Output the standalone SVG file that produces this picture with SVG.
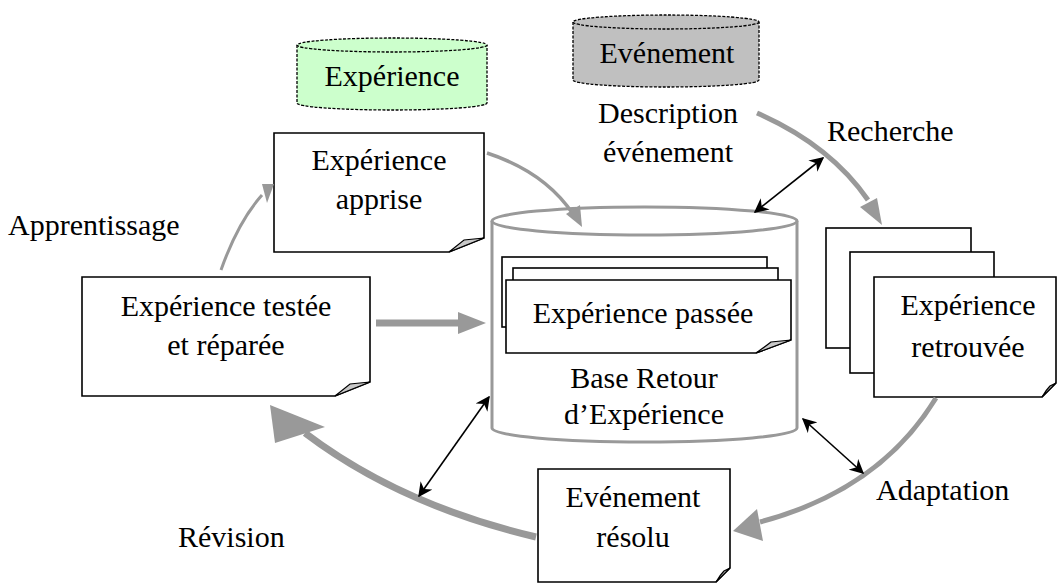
<svg xmlns="http://www.w3.org/2000/svg" width="1058" height="584" viewBox="0 0 1058 584" font-family="'Liberation Serif', 'Times New Roman', 'DejaVu Serif', serif">
<style>
text{font-family:'Liberation Serif','Times New Roman','DejaVu Serif',serif;font-size:30px;fill:#000}
.c{text-anchor:middle}
.doc{fill:#fff;stroke:#000;stroke-width:1.6}
.fold{fill:#c8c8c8;stroke:#000;stroke-width:1.2}
.g{fill:none;stroke:#999;stroke-linecap:butt}
.b{fill:none;stroke:#000;stroke-width:1.6}
.cy{stroke:#000;stroke-width:1.3;stroke-dasharray:3,1.5}
</style>
<defs>
<marker id="bh" viewBox="0 0 10 10" refX="9" refY="5" markerWidth="9" markerHeight="9" orient="auto-start-reverse" markerUnits="strokeWidth"><path d="M0,0 L10,5 L0,10 L3,5 Z" fill="#000"/></marker>
</defs>

<g id="cyl-experience">
<path class="cy" d="M297,45 V103 A95,7 0 0 0 487,103 V45" fill="#ccffcc"/>
<ellipse class="cy" cx="392" cy="45" rx="95" ry="7" fill="#ccffcc"/>
<text class="c" x="392" y="86">Expérience</text>
</g>

<g id="cyl-evenement">
<path class="cy" d="M573,22 V80 A93,7 0 0 0 759,80 V22" fill="#c0c0c0"/>
<ellipse class="cy" cx="666" cy="22" rx="93" ry="7" fill="#c0c0c0"/>
<text class="c" x="667" y="63">Evénement</text>
</g>

<g id="base">
<path d="M492,221 V428 A152,14 0 0 0 797,428 V221" fill="#fff" stroke="#999" stroke-width="3"/>
<ellipse cx="644.5" cy="221" rx="152.5" ry="14" fill="#fff" stroke="#999" stroke-width="3"/>
<text class="c" x="644" y="388">Base Retour</text>
<text class="c" x="644" y="424">d’Expérience</text>
</g>

<g id="doc-passee">
<rect class="doc" x="502" y="257" width="265" height="70"/>
<rect class="doc" x="513" y="268" width="265" height="70"/>
<path class="doc" d="M506,280 H791 V340 L756,353 H506 Z"/>
<path class="fold" d="M756,353 L791,340 L771,342 Q766,346 756,353 Z"/>
<text class="c" x="643" y="323">Expérience passée</text>
</g>

<g id="doc-apprise">
<path class="doc" d="M274,133 H484 V238 L449,252 H274 Z"/>
<path class="fold" d="M449,252 L484,238 L464,240 Q459,244 449,252 Z"/>
<text class="c" x="379" y="170">Expérience</text>
<text class="c" x="379" y="209">apprise</text>
</g>

<g id="doc-testee">
<path class="doc" d="M82,277 H370 V382 L335,396 H82 Z"/>
<path class="fold" d="M335,396 L370,382 L350,384 Q345,388 335,396 Z"/>
<text class="c" x="226" y="316">Expérience testée</text>
<text class="c" x="226" y="355">et réparée</text>
</g>

<g id="doc-retrouvee">
<rect class="doc" x="826" y="228" width="145" height="120"/>
<rect class="doc" x="850" y="252" width="144" height="121"/>
<path class="doc" d="M874,277 H1056 V383 L1042,397 H874 Z"/>
<path class="fold" d="M1042,397 L1056,383 L1050,386 Q1046,390 1042,397 Z"/>
<text class="c" x="968" y="315">Expérience</text>
<text class="c" x="968" y="357">retrouvée</text>
</g>

<g id="doc-resolu">
<path class="doc" d="M538,469 H730 V568 L716,582 H538 Z"/>
<path class="fold" d="M716,582 L730,568 L724,571 Q720,575 716,582 Z"/>
<text class="c" x="633" y="507">Evénement</text>
<text class="c" x="633" y="547">résolu</text>
</g>

<g id="labels">
<text x="8" y="235">Apprentissage</text>
<text class="c" x="668" y="123">Description</text>
<text class="c" x="668" y="162">événement</text>
<text x="827" y="141">Recherche</text>
<text x="876" y="500">Adaptation</text>
<text x="178" y="547">Révision</text>
</g>

<g id="connectors">
<path class="g" stroke-width="3" d="M221,270 Q238,222 262,195"/>
<path d="M262,184 L274,184 L267,203 Z" fill="#999"/>
<path class="g" stroke-width="3.5" d="M487,153 Q545,172 573,214"/>
<path d="M566,214 L580,205 L582,227 Z" fill="#999"/>
<path class="g" stroke-width="5" d="M757,113 Q830,145 868,200"/>
<path d="M860,207 L877,198 L882,225 Z" fill="#999"/>
<path class="g" stroke-width="7" d="M376,323 H462"/>
<path d="M458,312 L486,323 L458,334 Z" fill="#999"/>
<path class="g" stroke-width="5" d="M936,398 Q880,490 760,522"/>
<path d="M757,509 L763,541 L733,531 Z" fill="#999"/>
<path class="g" stroke-width="7" d="M536,537 Q400,505 305,433"/>
<path d="M270,405 L325,427 L275,443 Z" fill="#999"/>
<line class="b" x1="755" y1="212" x2="823" y2="158" marker-start="url(#bh)" marker-end="url(#bh)"/>
<line class="b" x1="419" y1="496" x2="489" y2="397" marker-start="url(#bh)" marker-end="url(#bh)"/>
<line class="b" x1="803" y1="419" x2="863" y2="473" marker-start="url(#bh)" marker-end="url(#bh)"/>
</g>
</svg>
